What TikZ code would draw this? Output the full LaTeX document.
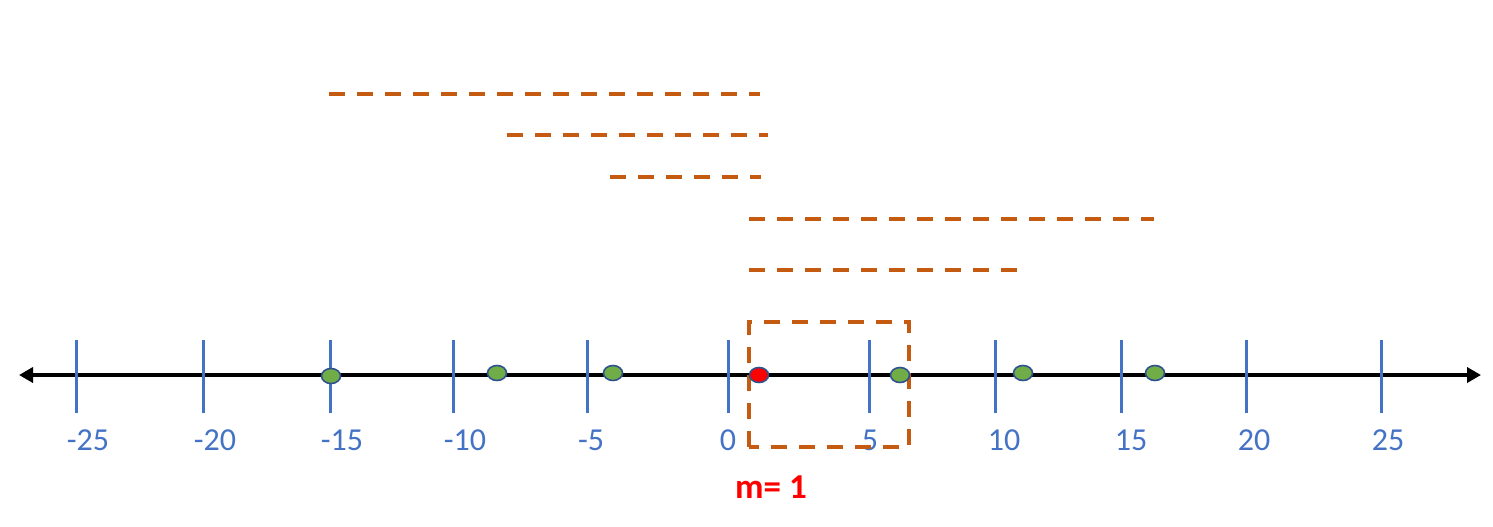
\documentclass[tikz,border=0pt]{standalone}
\usepackage{fontspec}
\setmainfont{Carlito}
\usetikzlibrary{arrows.meta,shapes.geometric}
\definecolor{tickblue}{HTML}{4472C4}
\definecolor{dashorange}{HTML}{C55A11}
\definecolor{dotgreen}{HTML}{70AD47}
\definecolor{dotborder}{HTML}{2F528F}
\tikzset{
  axisline/.style={line width=2pt, black, {Triangle[length=7pt,width=7.5pt]}-{Triangle[length=7pt,width=7.5pt]}},
  tickline/.style={line width=1.5pt, tickblue},
  ticklabel/.style={text=tickblue, font=\fontsize{16}{18}\selectfont, inner sep=0pt, anchor=center},
  dashseg/.style={line width=2pt, dashorange, dash pattern=on 8pt off 6pt},
  dotg/.style={ellipse, draw=dotborder, line width=0.8pt, fill=dotgreen, minimum width=9.5pt, minimum height=7.5pt, inner sep=0pt},
  dotr/.style={ellipse, draw=dotborder, line width=0.8pt, fill=red, minimum width=9.5pt, minimum height=7.5pt, inner sep=0pt},
}
\begin{document}
\begin{tikzpicture}[x=0.5pt, y=-0.5pt]
\useasboundingbox (0,0) rectangle (1493,526);
% axis
\coordinate (axL) at (19,375);
\coordinate (axR) at (1481,375);
\draw[axisline] (axL) -- (axR);
% ticks and labels
\foreach \xx/\lab/\lx [count=\i] in {76/-25/88, 203/-20/215, 330/-15/342, 453/-10/465, 587/-5/591, 728/0/728, 869/5/870, 995/10/1004, 1121/15/1131, 1246/20/1254, 1381/25/1388}{
  \coordinate (tt\i) at (\xx,340);
  \coordinate (tb\i) at (\xx,413);
  \draw[tickline] (tt\i) -- (tb\i);
  \node[ticklabel] (lab\i) at (\lx,440) {\lab};
}
% dashed box
\coordinate (boxA) at (749,322);
\coordinate (boxB) at (909,447);
\draw[dashseg] (749,447) -- (boxA) -- (909,322) -- (boxB) -- cycle;
% dots
\node[dotg] (g1) at (331,376) {};
\node[dotg] (g2) at (497,373) {};
\node[dotg] (g3) at (613,373) {};
\node[dotg] (g4) at (900,375) {};
\node[dotg] (g5) at (1023,373) {};
\node[dotg] (g6) at (1155,373) {};
\node[dotr] (r1) at (759,375) {};
% dashed segments
\coordinate (d1a) at (329,94);  \coordinate (d1b) at (760,94);
\coordinate (d2a) at (507,135); \coordinate (d2b) at (768,135);
\coordinate (d3a) at (610,177); \coordinate (d3b) at (761,177);
\coordinate (d4a) at (749,219); \coordinate (d4b) at (1154,219);
\coordinate (d5a) at (749,270); \coordinate (d5b) at (1017,270);
\draw[dashseg] (d1a) -- (d1b);
\draw[dashseg] (d2a) -- (d2b);
\draw[dashseg] (d3a) -- (d3b);
\draw[dashseg] (d4a) -- (d4b);
\draw[dashseg] (d5a) -- (d5b);
% label m
\node[text=red, font=\bfseries\fontsize{17.5}{20}\selectfont, inner sep=0pt] (mlab) at (771,487) {m= 1};
\end{tikzpicture}
\end{document}
